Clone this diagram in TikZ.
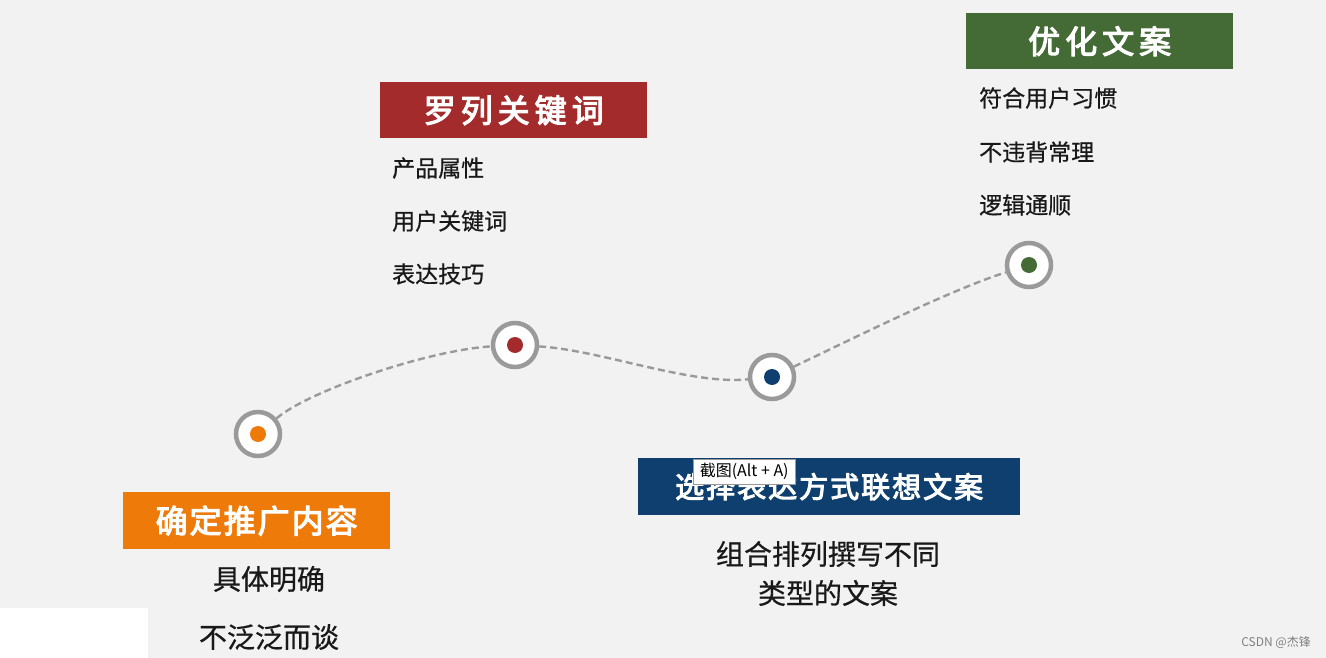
\documentclass[tikz,border=0pt]{standalone}
\usepackage{fontspec}
\newfontfamily\cjk{Noto Sans CJK SC}
\newfontfamily\cjkm{Noto Sans CJK SC}[FakeBold=0.6]
\newfontfamily\cjkb{Noto Sans CJK SC}[FakeBold=3.5]
\definecolor{bg}{HTML}{F2F2F2}
\definecolor{corange}{HTML}{EE7A0A}
\definecolor{cred}{HTML}{A32B2B}
\definecolor{cblue}{HTML}{0E3F6E}
\definecolor{cgreen}{HTML}{446B36}
\definecolor{ring}{HTML}{9A9A9A}
\begin{document}
\begin{tikzpicture}[x=1pt,y=-1pt,
  header/.style={fill=#1, text=white, inner sep=0pt, anchor=north west, font=\cjkb\fontsize{32}{32}\selectfont},
  bodytext/.style={text=black!90, inner sep=0pt, font=\cjkm\fontsize{23}{23}\selectfont},
  bigtext/.style={text=black!90, inner sep=0pt, font=\cjkm\fontsize{28}{28}\selectfont},
  ringnode/.style={circle, draw=ring, line width=4.5pt, fill=white, minimum size=44pt, inner sep=0pt},
  dotnode/.style={circle, fill=#1, minimum size=16pt, inner sep=0pt},
  dashline/.style={draw=ring, line width=2.4pt, dash pattern=on 7pt off 4pt}]
\fill[bg] (0,0) rectangle (1326,658);
\useasboundingbox (0,0) rectangle (1326,658);
\fill[white] (0,608) rectangle (148,658);

% rings
\node[ringnode] (c1) at (258,434) {};
\node[ringnode] (c2) at (515,345) {};
\node[ringnode] (c3) at (772,377) {};
\node[ringnode] (c4) at (1029,265) {};

% dashed path
\draw[dashline] (c1) .. controls (310,390) and (430,350) .. (c2);
\draw[dashline] (c2) .. controls (600,350) and (690,385) .. (c3);
\draw[dashline] (c3) .. controls (850,340) and (950,290) .. (c4);

\node[dotnode=corange] (d1) at (c1.center) {};
\node[dotnode=cred] (d2) at (c2.center) {};
\node[dotnode=cblue] (d3) at (c3.center) {};
\node[dotnode=cgreen] (d4) at (c4.center) {};

% header boxes
\node[header=corange, minimum width=267pt, minimum height=57pt] (h1) at (123,492) {确\kern2pt 定\kern2pt 推\kern2pt 广\kern2pt 内\kern2pt 容};
\node[header=cred, minimum width=267pt, minimum height=56pt] (h2) at (380,82) {罗\kern5pt 列\kern5pt 关\kern5pt 键\kern5pt 词};
\node[header=cblue, minimum width=382pt, minimum height=57pt, font=\cjkb\fontsize{29}{29}\selectfont] (h3) at (638,458) {选\kern2pt 择\kern2pt 表\kern2pt 达\kern2pt 方\kern2pt 式\kern2pt 联\kern2pt 想\kern2pt 文\kern2pt 案};
\node[header=cgreen, minimum width=267pt, minimum height=56pt] (h4) at (966,13) {优\kern5pt 化\kern5pt 文\kern5pt 案};

% texts
\node[bodytext, anchor=west] (t21) at (392,168) {产品属性};
\node[bodytext, anchor=west] (t22) at (392,221) {用户关键词};
\node[bodytext, anchor=west] (t23) at (392,274) {表达技巧};

\node[bodytext, anchor=west] (t41) at (979,98) {符合用户习惯};
\node[bodytext, anchor=west] (t42) at (979,152) {不违背常理};
\node[bodytext, anchor=west] (t43) at (979,205) {逻辑通顺};

\node[bigtext] (t11) at (269,579) {具体明确};
\node[bigtext] (t12) at (269,637) {不泛泛而谈};

\node[bigtext] (t31) at (828,554) {组合排列撰写不同};
\node[bigtext] (t32) at (828,593) {类型的文案};

% tooltip
\node[draw=black!40, fill=white, inner sep=0pt, minimum width=102pt, minimum height=25pt, anchor=north west, font=\cjk\fontsize{16}{16}\selectfont] (tip) at (693,459) {截图(Alt + A)};

% watermark
\node[anchor=east, inner sep=0pt, text=black!50, font=\cjk\fontsize{12}{12}\selectfont] (wm) at (1311,642) {CSDN @杰锋};
\end{tikzpicture}
\end{document}
